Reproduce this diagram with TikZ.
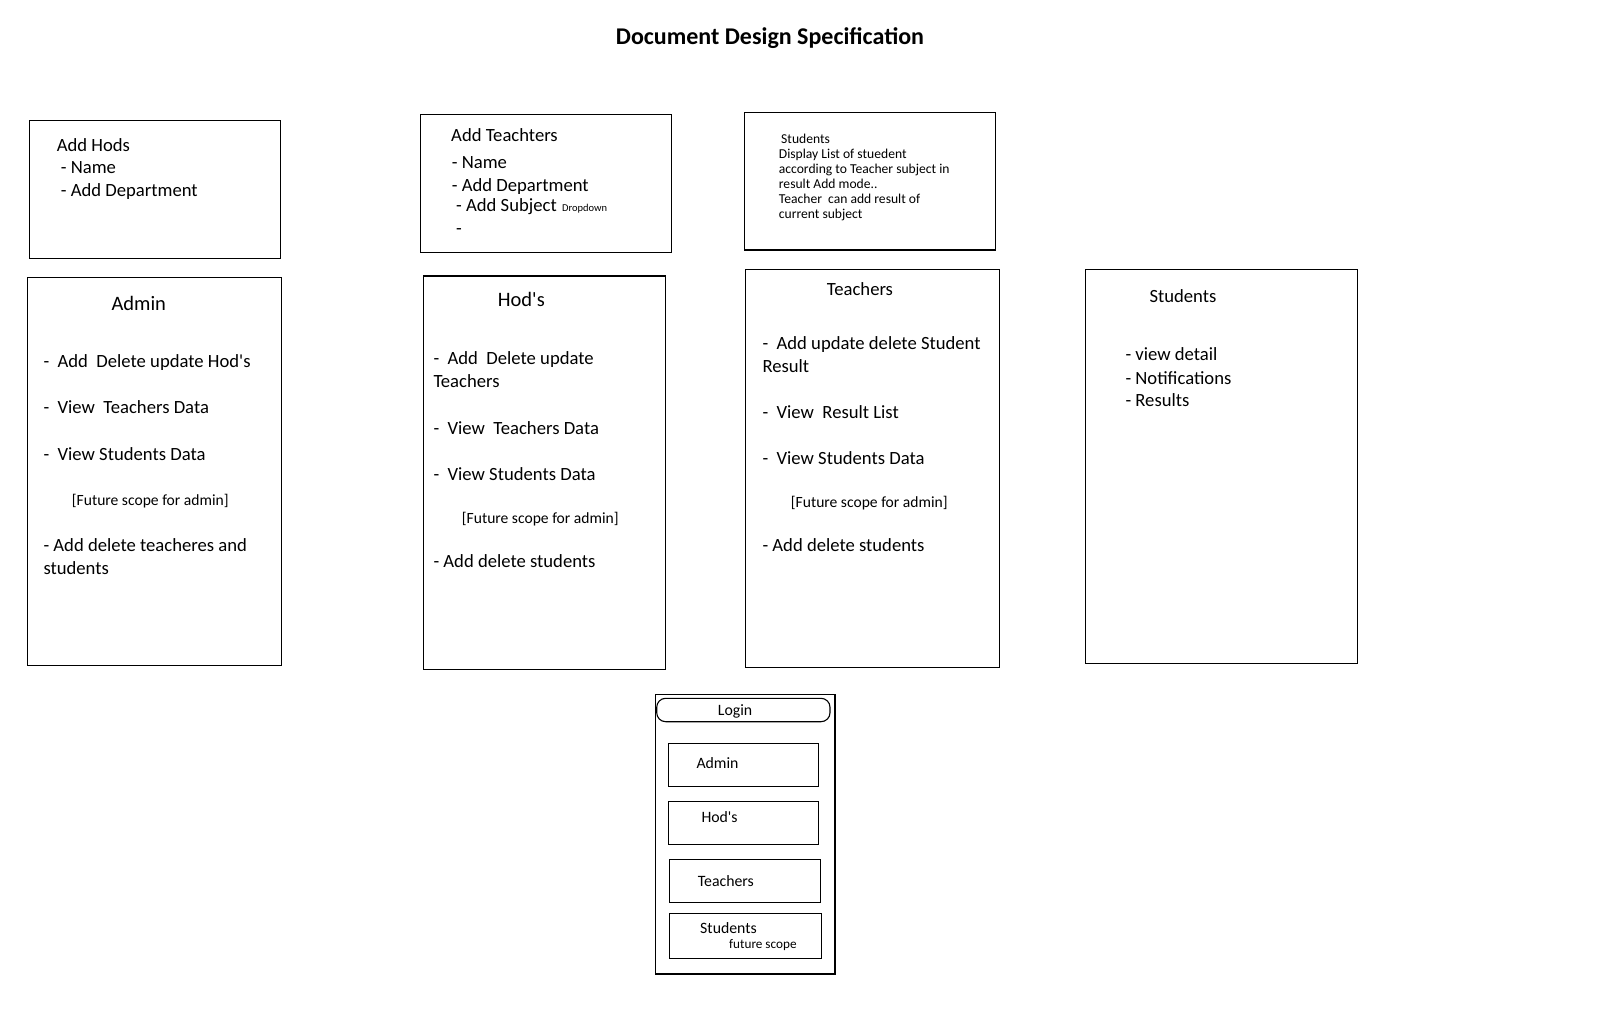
\documentclass[tikz,border=0pt]{standalone}
\usepackage{fontspec}
\setmainfont{Carlito}[Ligatures=TeXOff]
\tikzset{
  box/.style={draw, line width=1.3pt, inner sep=0pt, rectangle},
  capsule/.style={draw, line width=1.1pt, inner sep=0pt, rectangle, rounded corners=9pt},
  txt/.style={anchor=base west, inner sep=0pt, font=\fontsize{18.65}{22.75}\selectfont},
  hdtxt/.style={txt, font=\fontsize{20.5}{25}\selectfont},
  fstxt/.style={txt, font=\fontsize{15.6}{19}\selectfont},
  smtxt/.style={txt, font=\fontsize{13.6}{14.8}\selectfont},
  lgtxt/.style={txt, font=\fontsize{15.8}{19}\selectfont},
  tinytxt/.style={txt, font=\fontsize{10.5}{12}\selectfont},
  fstiny/.style={txt, font=\fontsize{13.2}{15}\selectfont},
}
\begin{document}
\begin{tikzpicture}[x=1pt,y=-1pt]
\useasboundingbox (0,0) rectangle (1608,1032);
\fill[white] (0,0) rectangle (1608,1032);

\node[anchor=base, inner sep=0pt, font=\bfseries\fontsize{24}{28}\selectfont] (title) at (770,44.3) {Document Design Specification};

% boxes
\node[box, minimum width=251pt, minimum height=138.1pt] (addhods) at (155,189.45) {};
\node[box, minimum width=251.4pt, minimum height=137.4pt] (addteach) at (546,183.5) {};
\node[box, minimum width=251.2pt, minimum height=137.7pt] (studisp) at (869.9,181.15) {};
\node[box, minimum width=254pt, minimum height=387.8pt] (admin) at (154.5,471.7) {};
\node[box, minimum width=242.4pt, minimum height=393.7pt] (hods) at (544.5,472.75) {};
\node[box, minimum width=254pt, minimum height=397.9pt] (teachers) at (872.3,468.35) {};
\node[box, minimum width=272pt, minimum height=393.9pt] (students) at (1221.3,466.35) {};

% login panel
\node[box, minimum width=179.3pt, minimum height=279.7pt] (login) at (745.35,834.15) {};
\node[capsule, minimum width=173.3pt, minimum height=23.4pt] (logincap) at (743.35,710) {};
\node[box, minimum width=150.4pt, minimum height=43pt] (ladmin) at (743.5,764.8) {};
\node[box, minimum width=150.4pt, minimum height=43pt] (lhods) at (743.5,822.8) {};
\node[box, minimum width=151.4pt, minimum height=43pt] (lteach) at (745,880.8) {};
\node[box, minimum width=152.4pt, minimum height=45pt] (lstud) at (745.5,935.8) {};

% Add Hods
\node[txt] (ah1) at (56.7,151.1) {Add Hods};
\node[txt] (ah2) at (60.7,174) {- Name};
\node[txt] (ah3) at (60.7,197) {- Add Department};

% Add Teachters
\node[txt] (at1) at (451,141.5) {Add Teachters};
\node[txt] (at2) at (451.7,168.5) {- Name};
\node[txt] (at3) at (451.7,191.5) {- Add Department};
\node[txt] (at4) at (456,212) {- Add Subject};
\node[tinytxt] (at5) at (562,212) {Dropdown};
\node[txt] (at6) at (456,235) {-};

% Students display
\node[smtxt] (sd1) at (781,143.7) {Students};
\node[smtxt] (sd2) at (778.7,159) {Display List of stuedent};
\node[smtxt] (sd3) at (778.7,174) {according to Teacher subject in};
\node[smtxt] (sd4) at (778.7,188.7) {result Add mode..};
\node[smtxt] (sd5) at (778.7,203.3) {Teacher\ \ can add result of};
\node[smtxt] (sd6) at (778.7,218.3) {current subject};

% Admin
\node[hdtxt] (ad0) at (111.3,310.4) {Admin};
\node[txt] (ad1) at (43.3,367.4) {-\ \ Add\ \ Delete update Hod's};
\node[txt] (ad2) at (43.3,413.7) {-\ \ View\ \ Teachers Data};
\node[txt] (ad3) at (43.3,460) {-\ \ View Students Data};
\node[fstxt] (ad4) at (71.7,505.6) {[Future scope for admin]};
\node[txt] (ad5) at (43.3,551.9) {- Add delete teacheres and};
\node[txt] (ad6) at (43.3,574.8) {students};

% Hod's
\node[hdtxt] (hd0) at (497.7,306.3) {Hod's};
\node[txt] (hd1) at (433.3,364.8) {-\ \ Add\ \ Delete update};
\node[txt] (hd2) at (433.3,387.4) {Teachers};
\node[txt] (hd3) at (433.3,434.1) {-\ \ View\ \ Teachers Data};
\node[txt] (hd4) at (433.3,480) {-\ \ View Students Data};
\node[fstxt] (hd5) at (461.7,523.3) {[Future scope for admin]};
\node[txt] (hd6) at (433.3,567.8) {- Add delete students};

% Teachers
\node[txt] (te0) at (826.7,295) {Teachers};
\node[txt] (te1) at (762.3,349.3) {-\ \ Add update delete Student};
\node[txt] (te2) at (762.3,372) {Result};
\node[txt] (te3) at (762.3,418.3) {-\ \ View\ \ Result List};
\node[txt] (te4) at (762.3,464) {-\ \ View Students Data};
\node[fstxt] (te5) at (790.7,507.3) {[Future scope for admin]};
\node[txt] (te6) at (762.3,551.7) {- Add delete students};

% Students
\node[txt] (st0) at (1149.3,302) {Students};
\node[txt] (st1) at (1125.3,360.7) {- view detail};
\node[txt] (st2) at (1125.3,384) {- Notifications};
\node[txt] (st3) at (1125.3,406.7) {- Results};

% Login texts
\node[lgtxt] (lg0) at (717.7,715.7) {Login};
\node[lgtxt] (lg1) at (696.3,768.3) {Admin};
\node[lgtxt] (lg2) at (701.3,822.7) {Hod's};
\node[lgtxt] (lg3) at (697.7,886) {Teachers};
\node[lgtxt] (lg4) at (700,933.3) {Students};
\node[fstiny] (lg5) at (729,948.3) {future scope};
\end{tikzpicture}
\end{document}
